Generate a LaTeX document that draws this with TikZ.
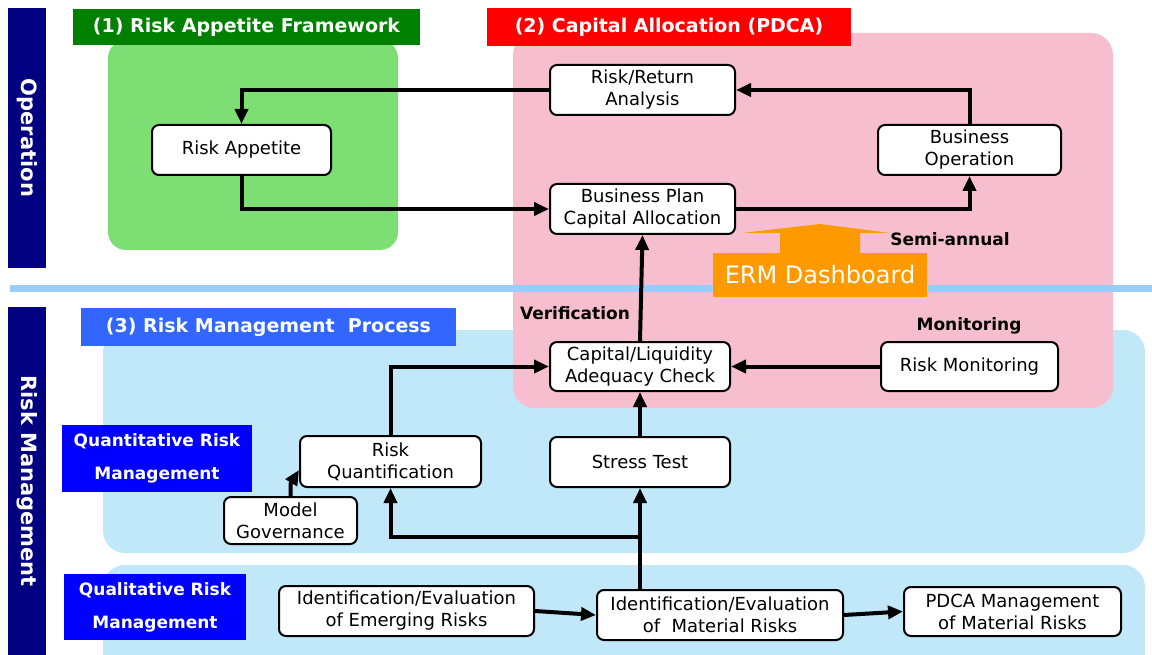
\documentclass[tikz,border=0pt]{standalone}
\usepackage{fontspec}
\setmainfont{DejaVu Sans}
\usetikzlibrary{arrows.meta}
\definecolor{navy}{RGB}{0,0,128}
\definecolor{hdgreen}{RGB}{0,128,0}
\definecolor{hdred}{RGB}{255,0,0}
\definecolor{hdblue}{RGB}{51,102,255}
\definecolor{lblblue}{RGB}{0,0,255}
\definecolor{greenfill}{RGB}{125,222,115}
\definecolor{pinkfill}{RGB}{246,190,206}
\definecolor{bluefill}{RGB}{192,232,248}
\definecolor{sepblue}{RGB}{153,204,255}
\definecolor{ermorange}{RGB}{255,153,0}
\tikzset{
  box/.style={draw, line width=2pt, rounded corners=7pt, fill=white, align=center,
    font=\fontsize{18}{22}\selectfont, inner sep=0pt},
  arr/.style={line width=4pt, -{Triangle[length=15pt,width=13pt]}},
  hdr/.style={text=white, font=\bfseries\fontsize{19}{23}\selectfont, inner sep=0pt, minimum height=36pt},
  side/.style={fill=navy, text=white, font=\bfseries\fontsize{21}{25}\selectfont, rotate=-90, inner sep=0pt},
  lbl/.style={fill=lblblue, text=white, font=\bfseries\fontsize{17}{33}\selectfont, align=center, inner sep=0pt},
  note/.style={font=\bfseries\fontsize{17}{20}\selectfont, inner sep=0pt}
}
\begin{document}
\begin{tikzpicture}[x=1pt,y=-1pt]
\useasboundingbox (0,0) rectangle (1152,655);
% regions
\fill[bluefill, rounded corners=22pt] (103,330) rectangle (1145,553);
\fill[bluefill, rounded corners=22pt] (103,565) rectangle (1145,700);
\fill[pinkfill, rounded corners=22pt] (513,33) rectangle (1113,408);
\fill[greenfill, rounded corners=18pt] (108,40) rectangle (398,250);
% separator
\fill[sepblue] (10,285) rectangle (1152,292);
% side bars
\node[side, minimum width=260pt, minimum height=38pt] (op) at (27,138) {Operation};
\node[side, minimum width=348pt, minimum height=38pt] (rm) at (27,481) {Risk Management};
% headers
\node[hdr, fill=hdgreen, minimum width=347pt] (h1) at (246.5,27) {(1) Risk Appetite Framework};
\node[hdr, fill=hdred, minimum width=364pt, minimum height=38pt] (h2) at (669,27) {(2) Capital Allocation (PDCA)};
\node[hdr, fill=hdblue, minimum width=375pt, minimum height=38pt] (h3) at (268.5,327) {(3) Risk Management\ \ Process};
% blue labels
\node[lbl, minimum width=190pt, minimum height=67pt] (qn) at (157,458.5) {Quantitative Risk\\Management};
\node[lbl, minimum width=182pt, minimum height=66pt] (ql) at (155,607) {Qualitative Risk\\Management};
% nodes
\node[box, minimum width=179pt, minimum height=50pt] (ra) at (241.5,150) {Risk Appetite};
\node[box, minimum width=185pt, minimum height=50pt] (rr) at (642.5,90) {Risk/Return\\Analysis};
\node[box, minimum width=183pt, minimum height=50pt] (bo) at (969.5,150) {Business\\Operation};
\node[box, minimum width=185pt, minimum height=50pt] (bp) at (642.5,209) {Business Plan\\Capital Allocation};
\node[box, minimum width=180pt, minimum height=49pt] (cl) at (640,366.5) {Capital/Liquidity\\Adequacy Check};
\node[box, minimum width=177pt, minimum height=49pt] (rmon) at (969.5,366.5) {Risk Monitoring};
\node[box, minimum width=181pt, minimum height=51pt] (rq) at (390.5,461.5) {Risk\\Quantification};
\node[box, minimum width=133pt, minimum height=47pt] (mg) at (290.5,520.5) {Model\\Governance};
\node[box, minimum width=180pt, minimum height=50pt] (st) at (640,462) {Stress Test};
\node[box, minimum width=255pt, minimum height=50pt] (er) at (406.5,611) {Identification/Evaluation\\of Emerging Risks};
\node[box, minimum width=246pt, minimum height=50pt] (mr) at (720,615) {Identification/Evaluation\\of\ \ Material Risks};
\node[box, minimum width=217pt, minimum height=49pt] (pd) at (1012.5,611.5) {PDCA Management\\of Material Risks};
% ERM dashboard
\fill[ermorange] (742,233) -- (820,224) -- (890,233) -- (860,233) -- (860,254) -- (780,254) -- (780,233) -- cycle;
\node[fill=ermorange, text=white, font=\fontsize{24}{28}\selectfont, minimum width=214pt, minimum height=44pt, inner sep=0pt] (erm) at (820,275) {ERM Dashboard};
% notes
\node[note] (sa) at (950,239) {Semi-annual};
\node[note] (vf) at (575,313) {Verification};
\node[note] (mo) at (969,326) {Monitoring};
% connectors
\draw[arr] (rr.west) -| (ra.north);
\draw[arr] (ra.south) |- (bp.west);
\draw[arr] (bp.east) -| (bo.south);
\draw[arr] (bo.north) |- (rr.east);
\draw[arr] (cl.north) -- (bp.south);
\draw[arr] (rmon.west) -- (cl.east);
\draw[arr] (rq.north) |- (cl.west);
\draw[arr] (st.north) -- (cl.south);
\draw[arr] (mr.north -| st.south) -- (st.south);
\coordinate (br) at (640,537);
\draw[arr] (br) -| (rq.south);
\draw[arr] (mg.north) -- ++(0,-12) -- (rq.south west |- 0,470);
\draw[arr] (er.east) -- (mr.west);
\draw[arr] (mr.east) -- (pd.west);
\end{tikzpicture}
\end{document}
